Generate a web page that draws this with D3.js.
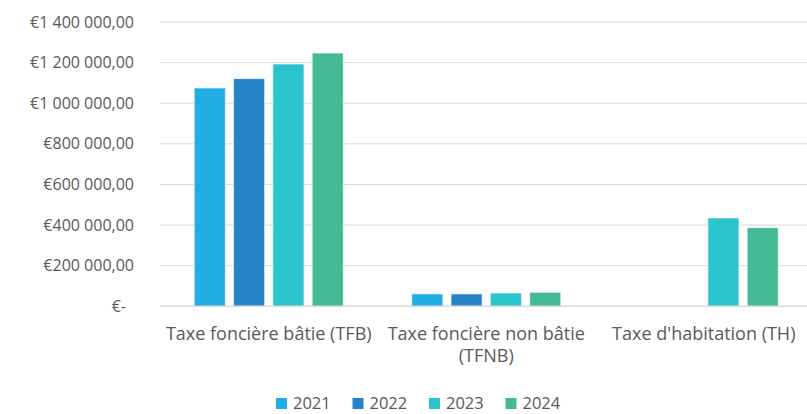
<!DOCTYPE html>
<html>
<head>
<meta charset="utf-8">
<script src="https://cdn.jsdelivr.net/npm/d3@7"></script>
<style>
  body { margin: 0; background: #fff; }
  text { font-family: "Open Sans", Lato, sans-serif; fill: #595959; }
</style>
</head>
<body>
<svg id="chart" width="807" height="414"></svg>
<script>
// chart data
var categories = ["Taxe foncière bâtie (TFB)", "Taxe foncière non bâtie (TFNB)", "Taxe d'habitation (TH)"];
var years = ["2021", "2022", "2023", "2024"];
var v2021 = [1075000, 61000, 0];
var v2022 = [1121000, 61000, 0];
var v2023 = [1193000, 65500, 435000];
var v2024 = [1247000, 69000, 387000];
var yTicks = [0, 200000, 400000, 600000, 800000, 1000000, 1200000, 1400000];
var colors = ["#1fade3", "#2783c8", "#29c4cc", "#44b995"];

var series = [v2021, v2022, v2023, v2024];
var rows = categories.map(function(c, i) {
  return { cat: c, vals: years.map(function(yr, j) { return { year: yr, v: series[j][i], k: j }; }) };
});

var svg = d3.select("#chart");
var plotLeft = 160, plotRight = 812.5, plotTop = 22, plotBottom = 306.3;

var x0 = d3.scaleBand().domain(categories).range([plotLeft, plotRight]).paddingInner(0.277).paddingOuter(0.1385);
var x1 = d3.scaleBand().domain(years).range([0, x0.bandwidth()]).paddingInner(0.21).paddingOuter(0.105);
var y = d3.scaleLinear().domain([0, 1400000]).range([plotBottom, plotTop]);

var fr = d3.formatLocale({ decimal: ",", thousands: "\u00a0", grouping: [3], currency: ["€", ""] });
var fmt = fr.format(",.2f");

// gridlines
svg.append("g").selectAll("line")
  .data(yTicks.filter(function(t) { return t > 0; }))
  .join("line")
  .attr("x1", plotLeft).attr("x2", 807)
  .attr("y1", function(d) { return y(d); }).attr("y2", function(d) { return y(d); })
  .attr("stroke", "#d9d9d9").attr("stroke-width", 1);

// y labels
svg.append("g").selectAll("text")
  .data(yTicks)
  .join("text")
  .attr("x", function(d) { return d === 0 ? 126 : 134; })
  .attr("y", function(d) { return y(d); })
  .attr("dy", "0.35em")
  .attr("text-anchor", "end")
  .style("font-size", "16px")
  .text(function(d) { return d === 0 ? "€-" : "€" + fmt(d); });

// bars
var g = svg.append("g").selectAll("g")
  .data(rows)
  .join("g")
  .attr("transform", function(d) { return "translate(" + x0(d.cat) + ",0)"; });

g.selectAll("rect")
  .data(function(d) { return d.vals.filter(function(e) { return e.v > 0; }); })
  .join("rect")
  .attr("x", function(d) { return x1(d.year); })
  .attr("width", x1.bandwidth())
  .attr("y", function(d) { return y(d.v); })
  .attr("height", function(d) { return y(0) - y(d.v); })
  .attr("fill", function(d) { return colors[d.k]; })
  .attr("stroke", "rgba(255,255,255,0.6)")
  .attr("stroke-width", 1);

// zero axis line
svg.append("line")
  .attr("x1", plotLeft).attr("x2", 807)
  .attr("y1", y(0)).attr("y2", y(0))
  .attr("stroke", "#d9d9d9").attr("stroke-width", 1.5);

// category labels, wrapped
svg.append("g").selectAll("text")
  .data(categories)
  .join("text")
  .attr("text-anchor", "middle")
  .attr("x", function(d) { return x0(d) + x0.bandwidth() / 2; })
  .attr("y", 340)
  .style("font-size", "18px")
  .each(function(d) {
    var t = d3.select(this), words = d.split(" "), line = [];
    var ts = t.append("tspan").attr("x", t.attr("x")).attr("dy", 0);
    words.forEach(function(w) {
      line.push(w);
      ts.text(line.join(" "));
      if (ts.node().getComputedTextLength() > 214 && line.length > 1) {
        line.pop();
        ts.text(line.join(" "));
        line = [w];
        ts = t.append("tspan").attr("x", t.attr("x")).attr("dy", "22px").text(w);
      }
    });
  });

// legend
var lg = svg.append("g").selectAll("g")
  .data(years)
  .join("g")
  .attr("transform", function(d, i) { return "translate(" + (276 + i * 76.5) + ",398)"; });
lg.append("rect").attr("width", 11).attr("height", 11)
  .attr("fill", function(d, i) { return colors[i]; });
lg.append("text").attr("x", 17).attr("y", 5.5).attr("dy", "0.36em")
  .style("font-size", "16.5px")
  .text(function(d) { return d; });
</script>
</body>
</html>
